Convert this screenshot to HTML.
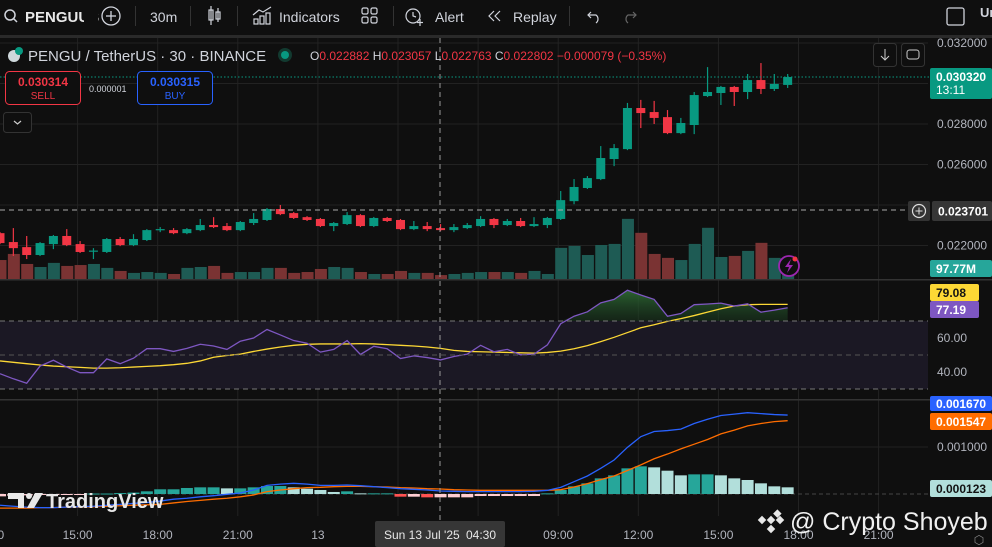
<!DOCTYPE html>
<html><head><meta charset="utf-8">
<style>
html,body{margin:0;padding:0;background:#0f0f0f;width:992px;height:547px;overflow:hidden}
svg{display:block;font-family:"Liberation Sans",sans-serif}
</style></head>
<body>
<svg id="chart" width="992" height="547" viewBox="0 0 992 547" xmlns="http://www.w3.org/2000/svg">
<rect x="0" y="0" width="992" height="547" fill="#0f0f0f"/>
<g>
  <g>
    <circle cx="10" cy="15" r="5" fill="none" stroke="#d1d4dc" stroke-width="1.5"/>
    <line x1="13.5" y1="18.5" x2="17" y2="22" stroke="#d1d4dc" stroke-width="1.5"/>
    <text x="25" y="22" fill="#e8e8e8" font-size="15" font-weight="bold">PENGUUS</text>
  </g>
  <rect x="84" y="4" width="14" height="24" fill="#0f0f0f"/>
  <g>
    <circle cx="111" cy="16" r="9" fill="none" stroke="#d1d4dc" stroke-width="1.3"/>
    <line x1="106" y1="16" x2="116" y2="16" stroke="#d1d4dc" stroke-width="1.3"/><line x1="111" y1="11" x2="111" y2="21" stroke="#d1d4dc" stroke-width="1.3"/>
  </g>
  <rect x="135" y="6" width="1" height="20" fill="#333"/>
  <text x="150" y="22" fill="#d1d4dc" font-size="14">30m</text>
  <rect x="190" y="6" width="1" height="20" fill="#333"/>
  <g stroke="#d1d4dc" stroke-width="1.2" fill="none">
    <rect x="209" y="10" width="4" height="10"/><line x1="211" y1="6" x2="211" y2="25"/>
    <rect x="216" y="12" width="4" height="7"/><line x1="218" y1="8" x2="218" y2="22"/>
  </g>
  <rect x="237" y="6" width="1" height="20" fill="#333"/>
  <g>
    <g stroke="#d1d4dc" stroke-width="1.2" fill="none"><rect x="254" y="19" width="4" height="5"/><rect x="260" y="16" width="4" height="8"/><rect x="266" y="13" width="4" height="11"/><polyline points="253,15 259,10 263,12 271,7"/></g>
    <text x="279" y="22" fill="#d1d4dc" font-size="14">Indicators</text>
  </g>
  <g stroke="#d1d4dc" stroke-width="1.2" fill="none">
    <rect x="362" y="8" width="6" height="6" rx="1.5"/><rect x="371" y="8" width="6" height="6" rx="1.5"/><rect x="362" y="17" width="6" height="6" rx="1.5"/><rect x="371" y="17" width="6" height="6" rx="1.5"/>
  </g>
  <rect x="393" y="6" width="1" height="20" fill="#333"/>
  <g>
    <circle cx="413" cy="16" r="7" fill="none" stroke="#d1d4dc" stroke-width="1.2"/>
    <polyline points="413,12 413,16 416,17" fill="none" stroke="#d1d4dc" stroke-width="1.2"/>
    <line x1="420" y1="19" x2="420" y2="26" stroke="#d1d4dc" stroke-width="1.2"/><line x1="417" y1="22.5" x2="423" y2="22.5" stroke="#d1d4dc" stroke-width="1.2"/>
    <text x="435" y="22" fill="#d1d4dc" font-size="14">Alert</text>
  </g>
  <g>
    <polyline points="494,11 489,16 494,21" fill="none" stroke="#d1d4dc" stroke-width="1.2"/>
    <polyline points="500,11 495,16 500,21" fill="none" stroke="#d1d4dc" stroke-width="1.2"/>
    <text x="513" y="22" fill="#d1d4dc" font-size="14">Replay</text>
  </g>
  <rect x="569" y="6" width="1" height="20" fill="#333"/>
  <path d="M588 15 h8 a5 5 0 0 1 0 8" fill="none" stroke="#d1d4dc" stroke-width="1.2"/>
  <polyline points="591,12 588,15 591,18" fill="none" stroke="#d1d4dc" stroke-width="1.2"/>
  <path d="M636 15 h-8 a5 5 0 0 0 0 8" fill="none" stroke="#666" stroke-width="1.2"/>
  <polyline points="633,12 636,15 633,18" fill="none" stroke="#666" stroke-width="1.2"/>
  <rect x="947" y="8" width="17" height="17" rx="2" fill="none" stroke="#d1d4dc" stroke-width="1.3"/>
  <text x="980" y="17" fill="#d1d4dc" font-size="13" font-weight="bold">Ur</text>
</g>
<rect x="0" y="35" width="992" height="3" fill="#2a2a2a"/>

<g id="grid"></g>
<rect x="0" y="321" width="928" height="68" fill="#1b1824"/>
<g id="main"></g>
<g id="rsi"></g>
<g id="macd"></g>

<rect x="0" y="279" width="992" height="1.5" fill="#333"/>
<rect x="0" y="399" width="992" height="1.5" fill="#333"/>

<g stroke="#777" stroke-dasharray="5,4" stroke-width="1">
  <line x1="0" y1="321" x2="928" y2="321"/><line x1="0" y1="355" x2="928" y2="355" stroke="#555"/><line x1="0" y1="389" x2="928" y2="389"/>
</g>

<line x1="440" y1="38" x2="440" y2="520" stroke="#999" stroke-dasharray="5,4"/>
<line x1="0" y1="210" x2="906" y2="210" stroke="#aaa" stroke-dasharray="5,4"/>
<g>
  <rect x="908" y="201" width="22" height="20" rx="2" fill="#333"/>
  <circle cx="919" cy="211" r="6.5" fill="none" stroke="#ddd" stroke-width="1.2"/>
  <line x1="915.5" y1="211" x2="922.5" y2="211" stroke="#ddd"/><line x1="919" y1="207.5" x2="919" y2="214.5" stroke="#ddd"/>
</g>

<line x1="0" y1="77" x2="930" y2="77" stroke="#089981" stroke-dasharray="1.5,2"/>

<g>
  <circle cx="14" cy="56" r="6" fill="#cfd8dc"/><circle cx="19" cy="51" r="4" fill="#089981"/>
  <text x="28" y="61" fill="#d1d4dc" font-size="15">PENGU / TetherUS · 30 · BINANCE</text>
  <circle cx="285" cy="55" r="7" fill="#123a30"/><circle cx="285" cy="55" r="4" fill="#089981"/>
  <text x="310" y="60" font-size="12"><tspan fill="#d1d4dc">O</tspan><tspan fill="#f23645">0.022882 </tspan><tspan fill="#d1d4dc">H</tspan><tspan fill="#f23645">0.023057 </tspan><tspan fill="#d1d4dc">L</tspan><tspan fill="#f23645">0.022763 </tspan><tspan fill="#d1d4dc">C</tspan><tspan fill="#f23645">0.022802 −0.000079 (−0.35%)</tspan></text>
</g>
<g>
  <rect x="5.5" y="71.5" width="75" height="33" rx="4" fill="#0f0f0f" stroke="#f23645"/>
  <text x="43" y="86" fill="#f23645" font-size="12" font-weight="bold" text-anchor="middle">0.030314</text>
  <text x="43" y="99" fill="#f23645" font-size="10" text-anchor="middle">SELL</text>
</g>
<text x="89" y="92" fill="#d1d4dc" font-size="9">0.000001</text>
<g>
  <rect x="137.5" y="71.5" width="75" height="33" rx="4" fill="#0f0f0f" stroke="#2962ff"/>
  <text x="175" y="86" fill="#2962ff" font-size="12" font-weight="bold" text-anchor="middle">0.030315</text>
  <text x="175" y="99" fill="#2962ff" font-size="10" text-anchor="middle">BUY</text>
</g>
<g>
  <rect x="3.5" y="112.5" width="28" height="20" rx="3" fill="#0f0f0f" stroke="#333"/>
  <polyline points="14,121 17.5,124 21,121" fill="none" stroke="#ccc" stroke-width="1.2"/>
</g>
<g>
  <rect x="873.5" y="43.5" width="23" height="23" rx="3" fill="#0f0f0f" stroke="#333"/>
  <line x1="885" y1="49" x2="885" y2="60" stroke="#ccc"/><polyline points="881,56 885,60 889,56" fill="none" stroke="#ccc"/>
</g>
<g>
  <rect x="901.5" y="43.5" width="23" height="23" rx="3" fill="#0f0f0f" stroke="#333"/>
  <rect x="907" y="50" width="12" height="9" rx="2.5" fill="none" stroke="#ccc"/>
</g>

<g id="axis" font-size="12" fill="#b2b5be"></g>

<g>
  <circle cx="789" cy="266" r="10" fill="#0f0f0f" stroke="#9c27b0" stroke-width="1.8"/>
  <path d="M791 259 L785 267 L789 267 L787 273 L793 265 L789 265 Z" fill="#9c27b0"/>
  <circle cx="795" cy="259" r="2.5" fill="#f23645"/>
</g>

<g id="time" font-size="12" fill="#b2b5be"></g>
<g>
  <rect x="375" y="521" width="130" height="26" rx="2" fill="#363636"/>
  <text x="384" y="539" fill="#e8e8e8" font-size="12">Sun 13 Jul '25</text><text x="466" y="539" fill="#e8e8e8" font-size="12">04:30</text>
</g>

<g>
  <path d="M8 493 h16 v15 h-6 v-9 h-10 z" fill="#e8e8e8"/><circle cx="29" cy="496" r="3" fill="#e8e8e8"/><path d="M35 493 h8 l-9 15 h-7 z" fill="#e8e8e8"/>
  <text x="46" y="508" fill="#e8e8e8" font-size="20" font-weight="bold">TradingView</text>
</g>
<g>
  <g fill="#e8e8e8" transform="translate(771,520)">
    <rect x="-3" y="-3" width="6" height="6" transform="rotate(45) translate(0,-9)"/>
    <rect x="-3" y="-3" width="6" height="6" transform="translate(-9,0) rotate(45)"/>
    <rect x="-3" y="-3" width="6" height="6" transform="translate(9,0) rotate(45)"/>
    <rect x="-3" y="-3" width="6" height="6" transform="translate(0,9) rotate(45)"/>
    <rect x="-3" y="-3" width="6" height="6" transform="rotate(45)"/>
  </g>
  <text x="790" y="530" fill="#f0f0f0" font-size="25">@ Crypto Shoyeb</text>
</g>
<text x="979" y="544" fill="#888" font-size="12" text-anchor="middle">⬡</text>
</svg>
<script>
const opens=[0.02261,0.02217,0.02192,0.02153,0.02207,0.02247,0.02207,0.02170,0.02168,0.02232,0.02202,0.02227,0.02279,0.02276,0.02261,0.02276,0.02301,0.02296,0.02276,0.02311,0.02326,0.0238,0.0236,0.0234,0.02331,0.02296,0.02306,0.0235,0.02296,0.02336,0.02326,0.02281,0.02296,0.02286,0.02276,0.02286,0.02296,0.02331,0.02301,0.02321,0.02296,0.02301,0.02331,0.02419,0.02484,0.02528,0.02627,0.02676,0.02879,0.02859,0.02834,0.02755,0.02795,0.02938,0.02953,0.02983,0.02958,0.03017,0.02973,0.02993];
const highs=[0.02266,0.02286,0.02247,0.02217,0.02252,0.02281,0.02222,0.02187,0.02237,0.02242,0.02256,0.02281,0.02291,0.02286,0.02286,0.02331,0.0234,0.02311,0.02321,0.0236,0.02385,0.024,0.02365,0.02345,0.02336,0.02316,0.02365,0.02355,0.02341,0.02341,0.02331,0.02321,0.02316,0.02306,0.02306,0.02311,0.02345,0.02336,0.02331,0.02336,0.0234,0.02341,0.02469,0.02528,0.02543,0.02691,0.02701,0.02904,0.02919,0.02914,0.02869,0.0283,0.02958,0.03081,0.02988,0.02988,0.03047,0.03101,0.03047,0.03047];
const lows=[0.02207,0.02148,0.02133,0.02148,0.02182,0.02197,0.02163,0.02133,0.02163,0.02197,0.02197,0.02222,0.02266,0.02256,0.02256,0.02271,0.02286,0.02271,0.02271,0.02301,0.02321,0.0235,0.02331,0.02321,0.02291,0.02271,0.02301,0.02291,0.02291,0.02316,0.02276,0.02276,0.02271,0.02271,0.02266,0.02281,0.02291,0.02286,0.02296,0.02291,0.02291,0.02286,0.02326,0.02404,0.02479,0.02523,0.02592,0.02671,0.0278,0.028,0.0275,0.0275,0.0275,0.02933,0.02894,0.02889,0.02923,0.02948,0.02963,0.02978];
const closes=[0.02212,0.02187,0.02153,0.02212,0.02247,0.02202,0.02168,0.02175,0.02232,0.02202,0.02232,0.02276,0.02281,0.02261,0.02281,0.02301,0.02291,0.02276,0.02316,0.02331,0.0238,0.02355,0.02336,0.02326,0.02296,0.02311,0.0235,0.02296,0.02336,0.02321,0.02281,0.02296,0.02281,0.02276,0.02291,0.02301,0.02331,0.02301,0.02321,0.02296,0.02306,0.02336,0.02424,0.02489,0.02533,0.02632,0.02681,0.02879,0.02854,0.0283,0.02755,0.02805,0.02943,0.02958,0.02983,0.02958,0.03017,0.02973,0.02998,0.03032];
const volumes=[106,140,84,67,90,73,78,84,62,45,34,39,34,28,62,67,73,34,39,39,62,62,34,39,56,67,62,39,28,28,45,34,34,22,28,34,39,39,39,34,45,28,174,185,134,190,196,336,258,140,118,106,196,286,123,129,157,202,118,98];
const rsiValues=[39.0,36.0,33.4,43.5,46.9,42.9,39.6,39.6,47.7,44.9,48.1,53.7,53.7,52.1,53.9,56.3,55.3,53.3,58.1,60.0,65.0,61.8,58.5,56.9,51.7,53.3,58.5,50.3,55.1,53.7,47.9,49.5,48.5,47.1,49.1,50.5,55.7,51.9,53.3,50.1,50.5,55.9,68.4,72.8,75.4,80.7,82.7,88.1,85.3,82.7,72.8,74.4,79.6,80.0,80.5,78.8,80.1,75.2,76.4,77.8];
const rsiMA=[46.5,45.7,44.9,44.1,43.5,43.1,42.7,42.3,42.3,42.5,42.9,43.3,43.7,44.3,45.1,46.5,48.7,49.7,50.5,52.1,53.5,54.7,55.7,56.3,56.5,56.5,56.5,56.7,56.5,56.1,55.7,55.3,54.7,53.9,52.7,52.1,51.9,51.7,51.5,51.3,51.1,51.5,52.3,53.7,55.5,57.9,60.4,63.2,66.0,67.8,69.8,71.4,73.2,75.2,77.2,78.8,79.6,79.8,79.8,79.8];
const macdLine=[-2.4,-2.6,-2.8,-2.9,-2.9,-2.8,-2.7,-2.6,-2.4,-2.2,-2.0,-1.8,-1.5,-1.1,-0.9,-0.6,-0.36,-0.07,0.21,0.85,1.84,2.1,2.27,2.1,1.84,1.84,1.91,1.77,1.56,1.35,1.13,1.0,0.85,0.64,0.57,0.5,0.5,0.5,0.5,0.5,0.57,0.78,1.42,2.62,3.83,5.46,7.23,9.93,12.2,13.3,13.5,13.8,15.0,15.9,16.7,17.0,17.3,17.1,16.9,16.8];
const signalLine=[-3.0,-3.0,-3.0,-2.9,-2.9,-2.8,-2.8,-2.7,-2.6,-2.5,-2.4,-2.3,-2.2,-1.9,-1.6,-1.35,-1.1,-0.9,-0.6,-0.2,0.5,0.85,1.13,1.35,1.42,1.56,1.63,1.63,1.56,1.49,1.35,1.28,1.13,1.06,0.92,0.85,0.78,0.78,0.78,0.78,0.78,0.78,0.92,1.49,2.2,3.05,3.83,5.0,6.2,7.5,8.5,9.6,10.6,11.6,12.8,13.6,14.5,15.0,15.4,15.6];
const histValues=[-0.5,-0.4,-0.3,-0.2,-0.2,-0.1,-0.1,0.1,0.1,0.2,0.3,0.57,1.0,1.0,1.28,1.42,1.42,1.2,1.2,1.42,1.7,1.7,1.42,1.13,0.85,0.43,0.57,0.14,0.14,0.14,-0.57,-0.57,-0.71,-0.71,-0.71,-0.71,-0.43,-0.43,-0.43,-0.43,-0.43,0.14,0.85,1.63,2.27,3.33,3.97,5.46,5.89,5.67,4.96,3.97,4.18,4.18,3.97,3.33,2.98,2.27,1.63,1.42];
const priceTicks=[0.032,0.030,0.028,0.026,0.024,0.022];
const priceTickLabels=["0.032000","","0.028000","0.026000","","0.022000"];
const rsiTicks=[60,40];
const macdTicks=[10];
const timeLabels=["00","15:00","18:00","21:00","13","03:00","06:00","09:00","12:00","15:00","18:00","21:00"];
const timeSlots=[0,6,12,18,24,30,36,42,48,54,60,66];

const NS="http://www.w3.org/2000/svg";
const STEP=13.35;
const xC=i=>i*STEP;
const yP=p=>43+(0.032-p)*20250;
const yV=v=>279-v*0.179;
const yR=v=>338-(v-60)*1.7;
const yM=v=>494-v*4.7;
function mk(tag,attrs,parent){const e=document.createElementNS(NS,tag);for(const k in attrs)e.setAttribute(k,attrs[k]);parent.appendChild(e);return e;}

const grid=document.getElementById('grid');
timeSlots.forEach(s=>{const gx=xC(s)-2.5;
  const l=mk('line',{x1:gx,y1:38,x2:gx,y2:516,stroke:'#222','stroke-width':1},grid);
  
  
});
priceTicks.forEach(p=>{const l=mk('line',{x1:0,y1:yP(p),x2:928,y2:yP(p),stroke:'#222'},grid);
  
  });
rsiTicks.forEach(v=>{const l=mk('line',{x1:0,y1:yR(v),x2:928,y2:yR(v),stroke:'#2a2733'},grid);
  
  });
macdTicks.forEach(v=>{const l=mk('line',{x1:0,y1:yM(v),x2:928,y2:yM(v),stroke:'#222'},grid);
  
  });
{const l=mk('line',{x1:0,y1:yM(0),x2:928,y2:yM(0),stroke:'#444','stroke-dasharray':'4,3'},grid);
  
  }

const main=document.getElementById('main');
volumes.forEach((v,i)=>{const up=closes[i]>=opens[i];
  const r=mk('rect',{x:xC(i)-5.5,y:yV(v),width:12,height:279-yV(v),fill:up?'#1e5b54':'#7a3333'},main);
  
  });
opens.forEach((o,i)=>{const c=closes[i],up=c>=o,col=up?'#089981':'#f23645';
  const g=mk('g',{},main);
  
  
  mk('line',{x1:xC(i),y1:yP(highs[i]),x2:xC(i),y2:yP(lows[i]),stroke:col,'stroke-width':1.2},g);
  const top=yP(Math.max(o,c)),bot=yP(Math.min(o,c));
  mk('rect',{x:xC(i)-4.5,y:top,width:9,height:Math.max(1.2,bot-top),fill:col},g);
});

const rsi=document.getElementById('rsi');
{
  let d='';
  rsiValues.forEach((v,i)=>{const y=Math.min(yR(v),yR(70));d+=(i?'L':'M')+xC(i)+' '+y;});
  d+='L'+xC(rsiValues.length-1)+' '+yR(70)+'L0 '+yR(70)+'Z';
  const defs=mk('defs',{},rsi);
  const lg=mk('linearGradient',{id:'gf',x1:0,y1:0,x2:0,y2:1},defs);
  mk('stop',{offset:0,'stop-color':'#2e6b35','stop-opacity':0.9},lg);
  mk('stop',{offset:1,'stop-color':'#1a3a1f','stop-opacity':0.5},lg);
  const p=mk('path',{d:d,fill:'url(#gf)'},rsi);
  
  
}
const pl=(arr,f)=>arr.map((v,i)=>xC(i)+','+f(v)).join(' ');
{const l=mk('polyline',{points:pl(rsiMA,yR),fill:'none',stroke:'#fdd835','stroke-width':1.3},rsi);
 
 }
{const l=mk('polyline',{points:pl(rsiValues,yR),fill:'none',stroke:'#7e57c2','stroke-width':1.3},rsi);
 
 }

const macd=document.getElementById('macd');
const cp=mk('clipPath',{id:'mc'},macd);mk('rect',{x:0,y:401,width:928,height:115},cp);
const mg=mk('g',{'clip-path':'url(#mc)'},macd);
histValues.forEach((v,i)=>{const prev=i?histValues[i-1]:v;
  const col=v>=0?(v>=prev?'#26a69a':'#b2dfdb'):(v<prev?'#ff5252':'#ffcdd2');
  const y0=yM(0),y1=yM(v);
  const r=mk('rect',{x:xC(i)-6,y:Math.min(y0,y1),width:12,height:Math.max(1,Math.abs(y1-y0)),fill:col},mg);
  
  });
{const l=mk('polyline',{points:pl(signalLine,yM),fill:'none',stroke:'#ff6d00','stroke-width':1.3},mg);
 
 }
{const l=mk('polyline',{points:pl(macdLine,yM),fill:'none',stroke:'#2962ff','stroke-width':1.3},mg);
 
 }

const ax=document.getElementById('axis');
priceTicks.forEach((p,k)=>{if(!priceTickLabels[k])return;
  const t=mk('text',{x:937,y:yP(p)+4},ax);t.textContent=priceTickLabels[k];
  
  });
rsiTicks.forEach(v=>{const t=mk('text',{x:937,y:yR(v)+4},ax);t.textContent=v.toFixed(2);
  
  });
macdTicks.forEach(v=>{const t=mk('text',{x:937,y:yM(v)+4},ax);t.textContent=(v/10000).toFixed(6);
  
  });
function badge(x,y,w,h,bg,fg,txt,name,sub){
  const g=mk('g',{},ax);
  
  
  mk('rect',{x:x,y:y,width:w,height:h,rx:2,fill:bg},g);
  const t=mk('text',{x:x+6,y:y+(sub?13:h/2+4.5),fill:fg,'font-weight':'bold','font-size':12},g);t.textContent=txt;
  if(sub){const s=mk('text',{x:x+6,y:y+26,fill:fg,'font-size':12},g);s.textContent=sub;}
}
badge(930,68,62,31,'#089981','#ffffff','0.030320','last-price-label','13:11');
badge(932,201,60,20,'#363636','#ffffff','0.023701','crosshair-price-label');
badge(930,260,62,17,'#26a69a','#ffffff','97.77M','volume-label');
badge(930,284,49,17,'#fdd835','#131313','79.08','rsi-ma-label');
badge(930,301,49,17,'#7e57c2','#ffffff','77.19','rsi-value-label');
badge(930,396,62,15,'#2962ff','#ffffff','0.001670','macd-value-label');
badge(930,413,62,17,'#ff6d00','#ffffff','0.001547','signal-value-label');
badge(930,480,62,17,'#b2dfdb','#131313','0.000123','histogram-value-label');

const tm=document.getElementById('time');
timeLabels.forEach((lab,k)=>{if(k===5||k===6)return;
  const t=mk('text',{x:xC(timeSlots[k])-2.5,y:539,'text-anchor':'middle'},tm);t.textContent=lab;
  
  });
</script>
</body></html>
